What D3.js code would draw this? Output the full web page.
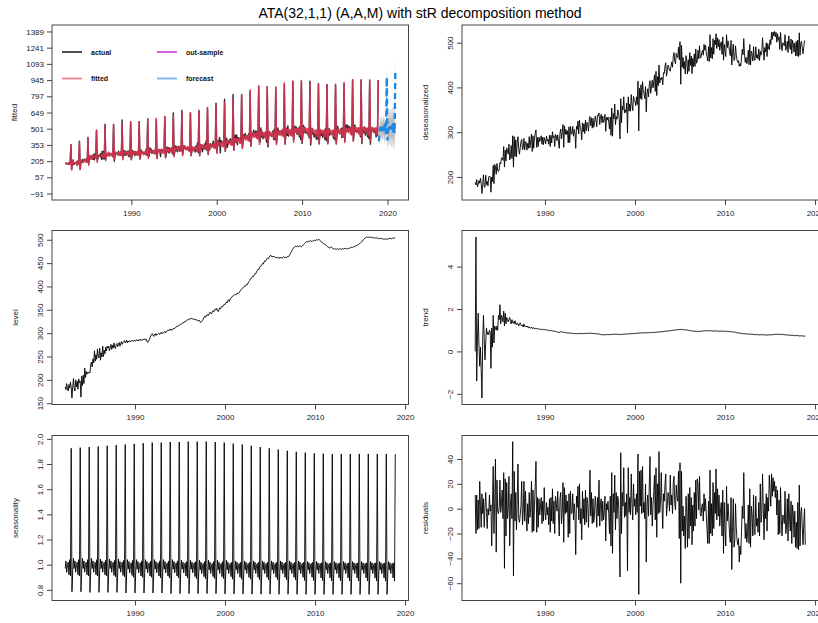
<!DOCTYPE html>
<html lang="en">
<head>
<meta charset="UTF-8">
<title>ATA(32,1,1) (A,A,M) with stR decomposition method</title>
<script src="https://d3js.org/d3.v7.min.js"></script>
<style>
  body { margin: 0; background: #fff; }
  svg { font-family: "Liberation Sans", Arial, sans-serif; }
  .tick text { font-size: 8px; fill: #222; }
  .tick line { stroke: #444; }
  .box { fill: none; stroke: #444; stroke-width: 1; }
  .series { fill: none; stroke: #000; stroke-width: 0.9; stroke-linejoin: round; }
  .ylab { font-size: 8px; fill: #222; }
  .legend text { font-size: 7px; font-weight: bold; fill: #111; }
</style>
</head>
<body>
<script>
// monthly series, first value April 1982, one row per year
const startYear = 1982, startMonth = 4;

const level = [
  [185,179,192,180,176,190,182,195,184],
  [161,185,203,182,176,200,185,197,180,202,194,197],
  [163,208,188,210,192,225,205,218,212,216,214,217],
  [215,232,238,228,245,236,262,240,254,244,266,250],
  [247,268,242,258,249,272,250,264,256,270,262,272],
  [268,272,262,270,276,265,274,268,279,270,267,276],
  [278,271,276,280,272,278,282,276,280,282,284,279],
  [281,285,279,283,281,284,282,283,285,283,282,285],
  [284,283,286,285,283,286,285,287,284,286,285,287],
  [286,288,285,287,283,280,282,286,290,294,297,299],
  [296,293,297,299,295,298,297,299,300,297,299,302],
  [299,301,300,302,304,301,303,305,307,305,307,309],
  [306,308,307,309,311,310,312,314,313,315,317,316],
  [318,320,319,321,323,322,324,326,325,327,329,328],
  [330,331,330,332,331,330,331,329,330,328,329,327],
  [328,326,327,324,323,325,327,330,333,336,334,338],
  [337,340,338,342,345,343,341,345,348,346,350,352],
  [350,353,348,346,350,354,352,356,358,357,360,362],
  [361,364,367,365,370,372,368,373,375,377,379,380],
  [381,383,382,384,383,386,385,387,390,392,394,396],
  [397,399,401,400,403,405,404,408,411,413,416,418],
  [419,422,421,425,428,427,431,434,437,436,440,443],
  [444,446,449,448,452,455,454,457,459,461,460,463],
  [465,467,464,463,465,463,464,462,461,463,461,462],
  [460,461,463,461,460,462,464,462,461,463,462,464],
  [463,465,467,470,473,476,479,482,484,485,486,485],
  [486,487,485,486,487,486,485,486,488,490,492,494],
  [495,496,495,497,496,497,498,497,496,498,497,499],
  [498,499,500,499,500,501,500,498,496,495,493,492],
  [491,490,489,488,486,485,484,482,483,485,484,482],
  [481,480,481,480,479,480,481,480,479,480,481,480],
  [480,481,480,481,482,481,480,481,482,481,482,483],
  [483,484,483,485,486,485,487,488,487,489,490,491],
  [492,494,495,497,499,501,503,504,505,506,505,505],
  [506,505,506,505,504,505,504,505,504,503,504,503],
  [504,503,502,503,502,503,502,501,502,501,502,501],
  [502,501,502,503,502,503,502,503,504,503,504,504]
].flat();

const deseasonalized = [
  [188,182,194,178,183,192,186,197,185],
  [163,183,205,178,177,204,183,190,180,200,202,200],
  [166,200,190,226,185,228,222,206,230,214,212,217],
  [232,229,242,243,237,268,222,260,236,265,258,251],
  [273,238,245,270,241,292,222,290,246,283,245,278],
  [290,264,251,265,278,284,261,265,286,260,279,277],
  [260,275,264,290,265,280,296,257,292,264,287,297],
  [305,266,288,268,289,279,284,292,273,289,272,288],
  [281,274,291,280,284,273,293,268,293,276,301,287],
  [292,268,295,292,281,294,278,264,298,307,285,300],
  [317,266,314,295,306,295,303,276,312,277,313,296],
  [296,313,291,306,299,264,313,306,325,296,327,311],
  [306,283,321,301,319,297,327,303,322,319,302,327],
  [335,314,332,309,331,311,319,336,327,312,338,337],
  [343,317,335,340,321,336,322,327,340,302,333,327],
  [334,322,307,334,293,354,291,342,330,363,317,335],
  [329,350,344,328,285,375,321,358,350,379,343,350],
  [344,365,298,379,347,363,347,384,362,348,380,373],
  [369,359,379,362,414,303,398,375,406,373,413,393],
  [386,375,402,345,386,397,379,405,415,387,403,416],
  [399,413,428,391,436,382,424,404,450,410,421,418],
  [423,406,433,431,448,455,425,436,450,446,438,436],
  [447,457,445,469,478,459,453,476,468,467,490,462],
  [502,407,494,445,467,441,458,430,471,460,430,462],
  [436,478,449,470,431,465,446,475,447,486,454,459],
  [483,464,493,466,467,478,483,472,496,483,494,477],
  [469,459,491,458,518,466,489,464,509,474,505,495],
  [520,487,511,491,507,483,497,502,474,513,461,496],
  [481,469,518,489,504,494,480,471,505,450,478,497],
  [460,464,493,473,461,456,460,447,453,448,466,485],
  [473,509,475,456,467,453,460,483,451,496,450,481],
  [475,459,491,461,461,491,466,473,463,486,460,481],
  [472,479,511,485,461,489,479,500,469,498,488,484],
  [507,496,523,507,524,515,525,513,523,501,520,505],
  [513,485,523,497,482,500,497,493,518,483,490,503],
  [478,515,494,485,508,475,505,497,479,499,471,503],
  [470,506,469,522,472,499,503,488,475,491,504,503]
].flat();

const trend = [
  [0.0,5.4,-1.4,0.6,1.8,0.3,-0.7,0.2,-0.9],
  [-2.2,0.5,1.7,0.6,-0.4,0.4,1.1,0.8,0.9,0.8,1.0,0.9],
  [-0.8,1.1,0.2,1.7,0.4,1.2,1.1,1.0,1.2,1.0,1.7,1.5],
  [2.2,1.3,1.7,1.6,1.4,1.9,1.2,1.8,1.3,1.6,1.5,1.4],
  [1.5,1.6,1.4,1.3,1.5,1.35,1.4,1.3,1.45,1.3,1.25,1.35],
  [1.3,1.2,1.3,1.35,1.25,1.2,1.25,1.15,1.3,1.2,1.15,1.2],
  [1.15,1.2,1.1,1.15,1.12,1.1,1.15,1.08,1.1,1.12,1.06,1.08],
  [1.1,1.06,1.08,1.05,1.07,1.04,1.05,1.03,1.05,1.02,1.04,1.03],
  [1.02,1.03,1.0,1.01,0.99,1.0,0.98,0.99,0.97,0.98,0.96,0.97],
  [0.95,0.96,0.94,0.93,0.92,0.9,0.91,0.89,0.92,0.93,0.92,0.91],
  [0.9,0.91,0.9,0.88,0.89,0.87,0.88,0.87,0.86,0.87,0.86,0.85],
  [0.86,0.85,0.84,0.85,0.83,0.84,0.83,0.84,0.85,0.84,0.85,0.84],
  [0.84,0.85,0.84,0.85,0.84,0.85,0.84,0.85,0.86,0.85,0.86,0.85],
  [0.86,0.85,0.86,0.85,0.84,0.85,0.84,0.83,0.84,0.83,0.82,0.83],
  [0.82,0.81,0.8,0.79,0.8,0.79,0.78,0.79,0.78,0.79,0.8,0.79],
  [0.78,0.79,0.8,0.79,0.8,0.81,0.8,0.81,0.8,0.81,0.82,0.81],
  [0.8,0.81,0.8,0.81,0.8,0.79,0.8,0.81,0.8,0.81,0.82,0.81],
  [0.82,0.83,0.82,0.83,0.84,0.83,0.84,0.83,0.84,0.85,0.84,0.85],
  [0.84,0.85,0.86,0.85,0.86,0.87,0.86,0.87,0.88,0.87,0.88,0.87],
  [0.88,0.87,0.88,0.89,0.88,0.87,0.88,0.89,0.88,0.89,0.9,0.89],
  [0.89,0.9,0.89,0.9,0.91,0.9,0.91,0.92,0.91,0.92,0.93,0.92],
  [0.93,0.94,0.93,0.94,0.95,0.96,0.95,0.96,0.97,0.96,0.97,0.98],
  [0.98,0.99,1.0,0.99,1.0,1.01,1.02,1.01,1.02,1.03,1.02,1.03],
  [1.03,1.04,1.03,1.04,1.03,1.02,1.03,1.02,1.01,1.0,1.01,1.0],
  [0.99,0.98,0.97,0.98,0.97,0.96,0.95,0.96,0.95,0.94,0.95,0.94],
  [0.94,0.95,0.94,0.95,0.96,0.95,0.96,0.97,0.96,0.97,0.98,0.97],
  [0.97,0.98,0.97,0.98,0.97,0.98,0.97,0.96,0.97,0.96,0.97,0.96],
  [0.96,0.97,0.96,0.95,0.96,0.95,0.96,0.95,0.96,0.95,0.96,0.95],
  [0.95,0.94,0.95,0.94,0.95,0.94,0.93,0.94,0.93,0.92,0.93,0.92],
  [0.91,0.9,0.91,0.89,0.88,0.87,0.88,0.86,0.85,0.86,0.85,0.84],
  [0.84,0.83,0.84,0.83,0.82,0.83,0.82,0.81,0.82,0.81,0.82,0.81],
  [0.8,0.81,0.8,0.79,0.8,0.79,0.8,0.79,0.78,0.79,0.78,0.79],
  [0.78,0.79,0.78,0.79,0.78,0.79,0.78,0.77,0.78,0.77,0.78,0.78],
  [0.78,0.79,0.78,0.79,0.8,0.79,0.8,0.81,0.8,0.81,0.8,0.81],
  [0.8,0.81,0.8,0.81,0.8,0.79,0.8,0.79,0.78,0.79,0.78,0.77],
  [0.78,0.77,0.76,0.77,0.76,0.75,0.76,0.75,0.76,0.75,0.74,0.75],
  [0.74,0.75,0.74,0.73,0.74,0.73,0.74,0.73,0.72,0.73,0.72,0.72]
].flat();

const seasonality = [
  [0.97,1.03,0.94,1.00,1.02,0.92,1.04,0.91,1.925],
  [0.785,0.95,1.05,0.97,1.03,0.94,1.00,1.02,0.92,1.04,0.91,1.93],
  [0.785,0.95,1.05,0.97,1.03,0.94,1.00,1.02,0.92,1.04,0.91,1.935],
  [0.78,0.95,1.05,0.97,1.03,0.94,1.00,1.02,0.92,1.04,0.91,1.94],
  [0.78,0.95,1.045,0.97,1.03,0.94,1.00,1.02,0.92,1.035,0.91,1.945],
  [0.78,0.945,1.045,0.97,1.03,0.94,1.00,1.02,0.915,1.035,0.905,1.95],
  [0.78,0.945,1.045,0.97,1.025,0.94,1.00,1.02,0.915,1.035,0.905,1.955],
  [0.775,0.945,1.04,0.965,1.025,0.935,0.995,1.015,0.915,1.035,0.9,1.96],
  [0.775,0.945,1.04,0.965,1.025,0.935,0.995,1.015,0.91,1.03,0.9,1.965],
  [0.775,0.94,1.04,0.965,1.025,0.935,0.995,1.015,0.91,1.03,0.9,1.97],
  [0.775,0.94,1.04,0.965,1.025,0.935,0.995,1.015,0.91,1.03,0.895,1.97],
  [0.775,0.94,1.04,0.965,1.025,0.935,0.995,1.015,0.91,1.03,0.895,1.975],
  [0.77,0.94,1.04,0.965,1.025,0.935,0.995,1.015,0.91,1.03,0.895,1.975],
  [0.77,0.94,1.035,0.965,1.02,0.935,0.995,1.015,0.91,1.025,0.895,1.978],
  [0.77,0.94,1.035,0.965,1.02,0.935,0.995,1.015,0.905,1.025,0.89,1.978],
  [0.77,0.935,1.035,0.96,1.02,0.93,0.99,1.01,0.905,1.025,0.89,1.978],
  [0.77,0.935,1.035,0.96,1.02,0.93,0.99,1.01,0.905,1.025,0.89,1.975],
  [0.77,0.935,1.035,0.96,1.02,0.93,0.99,1.01,0.905,1.025,0.89,1.97],
  [0.768,0.935,1.035,0.96,1.02,0.93,0.99,1.01,0.905,1.02,0.885,1.962],
  [0.768,0.935,1.03,0.96,1.02,0.93,0.99,1.01,0.9,1.02,0.885,1.955],
  [0.768,0.93,1.03,0.96,1.02,0.93,0.99,1.01,0.9,1.02,0.885,1.945],
  [0.766,0.93,1.03,0.96,1.02,0.93,0.99,1.01,0.9,1.02,0.88,1.935],
  [0.766,0.93,1.03,0.96,1.02,0.93,0.99,1.01,0.9,1.02,0.88,1.925],
  [0.766,0.93,1.03,0.96,1.02,0.93,0.99,1.01,0.9,1.02,0.88,1.915],
  [0.765,0.93,1.03,0.96,1.02,0.93,0.99,1.01,0.9,1.02,0.88,1.905],
  [0.765,0.93,1.03,0.96,1.02,0.93,0.99,1.01,0.9,1.02,0.88,1.897],
  [0.765,0.93,1.03,0.96,1.02,0.93,0.99,1.01,0.9,1.02,0.875,1.89],
  [0.764,0.93,1.025,0.96,1.015,0.93,0.99,1.01,0.9,1.02,0.875,1.885],
  [0.764,0.93,1.025,0.96,1.015,0.93,0.99,1.01,0.895,1.015,0.875,1.882],
  [0.764,0.93,1.025,0.96,1.015,0.93,0.99,1.01,0.895,1.015,0.872,1.88],
  [0.764,0.93,1.025,0.96,1.015,0.93,0.99,1.01,0.895,1.015,0.872,1.88],
  [0.764,0.93,1.025,0.96,1.015,0.93,0.99,1.01,0.895,1.015,0.87,1.88],
  [0.764,0.93,1.025,0.96,1.015,0.93,0.99,1.01,0.895,1.015,0.87,1.88],
  [0.764,0.93,1.025,0.96,1.015,0.93,0.99,1.01,0.895,1.015,0.87,1.88],
  [0.764,0.93,1.025,0.96,1.015,0.93,0.99,1.01,0.895,1.015,0.87,1.88],
  [0.764,0.93,1.025,0.96,1.015,0.93,0.99,1.01,0.895,1.015,0.87,1.88],
  [0.764,0.93,1.025,0.96,1.015,0.93,0.99,1.01,0.895,1.015,0.87,1.878]
].flat();

const residuals = [
  [11,-20,11,-17,7,-16,22,2,-15],
  [12,-4,8,-15,1,13,-3,-16,0,-5,11,-2],
  [3,-30,2,34,-20,5,40,-35,23,-2,-4,1],
  [23,-3,4,15,-8,29,-48,24,-22,21,-8,0],
  [26,-30,3,12,-8,54,-54,30,-10,13,-17,6],
  [36,-8,-11,-5,2,22,-13,-3,22,-10,14,-6],
  [-18,4,-12,13,-7,2,22,-19,15,-18,3,18],
  [38,-19,9,-15,8,-5,2,9,-12,6,-10,17],
  [-3,-9,5,-5,1,-13,8,-19,9,-10,16,-12],
  [6,-20,10,5,-2,14,-4,-22,8,13,-12,-3],
  [21,-27,17,-4,11,-3,6,-23,12,-20,14,-4],
  [-3,12,-9,4,-5,-37,10,1,18,-9,20,-12],
  [0,-25,14,-8,8,-13,15,-11,9,4,-15,5],
  [31,-6,13,-12,8,-11,-5,10,2,-15,9,-6],
  [23,-14,5,8,-10,6,-9,-2,10,-26,4,-1],
  [6,-4,-20,10,-30,29,-36,12,-3,27,-17,13],
  [-8,10,6,-14,-55,45,-20,13,2,33,-7,5],
  [-6,12,-50,33,-3,9,-5,28,4,-9,20,2],
  [8,-5,12,-3,44,-69,30,2,31,-4,34,-3],
  [5,-8,20,-43,3,11,-6,18,42,-5,9,-14],
  [2,14,27,-9,33,-23,20,-4,46,-3,5,29],
  [4,-16,12,6,20,28,-6,2,13,10,-2,27],
  [3,11,-4,21,26,4,-1,19,9,6,30,-24],
  [37,-60,30,-18,2,-22,-6,-32,10,-3,-31,12],
  [-24,17,-14,9,-29,3,-18,13,-14,23,-8,24],
  [20,-1,26,-4,-6,2,4,-10,12,-2,8,-5],
  [-17,-28,6,-28,31,-20,4,-22,21,-16,13,-4],
  [32,-9,16,-6,11,-14,-1,5,-22,15,-36,5],
  [-17,-30,18,-10,4,-7,-20,-27,9,-49,-15,8],
  [-31,-26,4,-15,-25,-29,-24,-43,-30,-37,-18,2],
  [-8,29,-6,-24,-12,-27,-21,3,-28,16,-31,2],
  [-5,-22,11,-20,-21,10,-14,-8,-19,5,-22,20],
  [-11,-5,28,0,-25,4,-8,12,-18,9,-2,27],
  [15,2,28,10,25,14,22,9,18,-5,15,-21],
  [7,-20,17,-8,-22,-5,-7,-12,14,-20,-14,8],
  [-26,12,-8,-18,6,-28,3,-4,-23,-2,-31,-11],
  [-32,5,-33,19,-30,-4,1,-15,-29,-12,0,-29]
].flat();

const actual = [
  [182,187,182,178,187,177,193,179,356],
  [128,174,215,173,182,192,183,194,166,208,184,386],
  [130,190,200,219,191,214,222,210,212,223,193,420],
  [181,218,254,236,244,252,222,265,217,276,235,487],
  [213,226,256,262,248,274,222,296,226,293,223,541],
  [226,249,262,257,286,267,261,270,262,269,252,540],
  [203,260,276,281,272,263,296,262,267,273,260,581],
  [236,251,300,259,296,261,283,296,250,299,245,564],
  [218,259,303,270,291,255,292,272,267,284,271,564],
  [226,252,307,282,288,275,277,268,271,316,257,591],
  [246,250,327,285,314,276,301,280,284,285,280,583],
  [229,294,303,295,306,247,311,311,296,305,293,614],
  [236,266,334,290,327,278,325,308,293,329,270,646],
  [258,295,344,298,338,291,317,341,298,320,303,667],
  [264,298,347,328,327,314,320,332,308,310,296,647],
  [257,301,318,321,299,329,288,345,299,372,282,663],
  [253,327,356,315,291,349,318,362,317,388,305,691],
  [265,341,308,364,354,338,344,388,328,357,338,735],
  [283,336,392,348,422,282,394,379,367,380,366,771],
  [296,351,414,331,394,369,375,409,374,395,357,813],
  [306,384,441,375,445,355,420,408,405,418,373,813],
  [324,378,446,414,457,423,421,440,405,455,385,844],
  [342,425,458,450,488,427,448,481,421,476,431,889],
  [385,379,509,427,476,410,453,434,424,469,378,885],
  [334,445,462,451,440,432,442,480,402,496,400,874],
  [369,432,508,447,476,445,478,477,446,493,435,905],
  [359,427,506,440,528,433,484,469,458,483,442,936],
  [397,453,524,471,515,449,492,507,427,523,403,935],
  [367,436,531,469,512,459,475,476,452,457,418,935],
  [351,432,505,454,468,424,455,451,405,455,406,912],
  [361,473,487,438,474,421,455,488,404,503,392,904],
  [363,427,503,443,468,457,461,478,414,493,400,904],
  [361,445,524,466,468,455,474,505,420,505,425,910],
  [387,461,536,487,532,479,520,518,468,509,452,949],
  [392,451,536,477,489,465,492,498,464,490,426,946],
  [365,479,506,466,516,442,500,502,429,506,410,946],
  [359,471,481,501,479,464,498,493,425,498,438,945]
].flat();

const fitted = [
  [179,184,180,180,180,175,189,177,354],
  [126,176,213,177,181,188,185,201,166,210,177,380],
  [128,198,197,204,198,212,205,222,195,225,195,420],
  [168,220,250,221,252,222,262,245,234,254,242,485],
  [193,255,253,250,256,256,250,269,236,279,238,529],
  [209,257,274,262,284,249,274,273,255,279,242,538],
  [217,256,288,272,279,261,282,282,256,292,257,545],
  [218,269,290,273,288,266,281,287,261,293,254,559],
  [220,267,297,275,290,267,284,291,258,295,257,564],
  [222,271,296,277,290,262,281,290,264,303,267,589],
  [229,275,309,289,302,279,296,303,273,306,268,595],
  [232,283,312,291,312,281,301,310,279,314,275,610],
  [236,290,319,298,319,290,310,319,285,324,284,624],
  [245,301,330,310,329,301,322,331,296,335,294,649],
  [254,311,342,320,338,309,329,334,299,336,293,647],
  [253,305,338,311,329,302,324,333,301,344,297,669],
  [259,318,350,328,352,319,338,348,315,355,312,695],
  [270,330,360,332,357,329,348,360,324,366,320,713],
  [277,340,380,350,377,346,364,377,339,385,335,746],
  [293,358,393,369,391,359,381,391,351,400,349,774],
  [305,371,413,384,411,377,400,412,370,421,368,813],
  [321,392,434,408,437,397,427,438,393,445,387,857],
  [340,415,462,430,461,423,449,462,413,470,405,891],
  [356,434,478,444,474,431,459,467,415,472,406,885],
  [352,429,477,443,469,430,459,467,415,472,407,884],
  [354,432,481,451,482,443,474,487,436,495,428,920],
  [372,453,500,467,497,452,480,491,439,500,431,934],
  [378,461,507,477,503,462,493,502,446,508,435,941],
  [380,464,513,479,508,466,495,503,444,502,431,926],
  [375,456,501,468,493,451,479,487,432,492,422,906],
  [367,446,493,461,486,446,476,485,429,487,419,902],
  [367,447,492,462,489,447,475,486,431,488,419,908],
  [369,450,495,466,493,451,482,493,436,496,426,923],
  [376,459,507,477,506,466,498,509,452,514,439,949],
  [387,470,519,485,512,470,499,510,451,511,438,946],
  [385,468,515,483,510,468,497,506,449,509,437,942],
  [384,466,515,483,510,468,497,508,451,511,438,947]
].flat();

// 24-month forecast from January 2019 with 80% and 95% intervals
const fcStart = 2019;
const forecast = [386,471,520,488,517,475,507,519,461,524,452,969, 393,479,529,496,526,483,516,528,469,533,460,1010];
const lo80 = [352,425,465,432,455,415,440,450,400,450,390,850, 335,400,440,410,430,395,420,430,380,425,370,890];
const hi80 = [420,518,575,545,580,535,575,590,525,598,515,1090, 452,560,620,584,622,572,612,626,558,640,552,1130];
const lo95 = [330,395,430,400,420,380,405,410,360,405,345,780, 290,340,380,350,370,330,350,360,310,350,290,800];
const hi95 = [445,560,620,590,620,575,610,625,565,640,560,1060, 500,620,690,650,690,640,690,700,630,710,620,1200];

const fittedTicks = [-91,57,205,353,501,649,797,945,1093,1241,1389];
const yearTicks = [1980,1990,2000,2010,2020];

const legendItems = [
  { label: "actual", color: "#4d4d4d" },
  { label: "out-sample", color: "#d660d6" },
  { label: "fitted", color: "#ea8c94" },
  { label: "forecast", color: "#84bbee" }
];

// ---------------------------------------------------------------
const W = 818, H = 623;
const svg = d3.select("body").append("svg").attr("width", W).attr("height", H);
svg.append("rect").attr("width", W).attr("height", H).attr("fill", "#fff");

const time = level.map((_, i) => startYear + (startMonth - 1 + i) / 12);
const fcTime = forecast.map((_, i) => fcStart + i / 12);

// R style axis range: data range plus 4% on each side
function pad(ext) {
  const r = ext[1] - ext[0];
  return [ext[0] - 0.04 * r, ext[1] + 0.04 * r];
}

const cols = [{ x0: 52, x1: 408.5 }, { x0: 462, x1: 818.5 }];
const rows = [{ y0: 25, y1: 200 }, { y0: 230.5, y1: 404.5 }, { y0: 435.5, y1: 600.5 }];

function frame(opt) {
  const c = cols[opt.col], r = rows[opt.row];
  const x = d3.scaleLinear().domain(opt.xdom).range([c.x0, c.x1]);
  const y = d3.scaleLinear().domain(opt.ydom).range([r.y1, r.y0]);
  const g = svg.append("g");

  const xa = g.append("g").attr("transform", `translate(0,${r.y1})`)
    .call(d3.axisBottom(x)
      .tickValues(yearTicks.filter(t => t >= opt.xdom[0] && t <= opt.xdom[1]))
      .tickFormat(d3.format("d")).tickSize(5).tickPadding(5));
  xa.select(".domain").remove();

  const ya = g.append("g").attr("transform", `translate(${c.x0},0)`)
    .call(d3.axisLeft(y).tickValues(opt.yticks)
      .tickFormat(opt.yfmt || d3.format("d")).tickSize(5).tickPadding(3));
  ya.select(".domain").remove();
  if (!opt.flatLabels) {
    ya.selectAll("text")
      .attr("x", 0).attr("y", -9).attr("dy", 0)
      .attr("transform", "rotate(-90)")
      .style("text-anchor", "middle");
  }

  g.append("rect").attr("class", "box")
    .attr("x", c.x0).attr("y", r.y0)
    .attr("width", c.x1 - c.x0).attr("height", r.y1 - r.y0);

  const labX = opt.labX !== undefined ? opt.labX : c.x0 - 34;
  g.append("text").attr("class", "ylab")
    .attr("transform", `translate(${labX},${(r.y0 + r.y1) / 2}) rotate(-90)`)
    .attr("text-anchor", "middle")
    .text(opt.ylabel);

  return { g, x, y };
}

function seriesLine(p, values) {
  p.g.append("path").attr("class", "series")
    .attr("d", d3.line().x((d, i) => p.x(time[i])).y(d => p.y(d))(values));
}

const xDomMain = pad(d3.extent(time));

// --- fitted / forecast panel
{
  const p = frame({
    col: 0, row: 0, xdom: pad([time[0], fcTime[fcTime.length - 1]]),
    ydom: pad([-91, 1389]), yticks: fittedTicks, ylabel: "fitted",
    flatLabels: true, labX: 17
  });

  const band = (lo, hi) => d3.area()
    .x((d, i) => p.x(fcTime[i])).y0((d, i) => p.y(lo[i])).y1((d, i) => p.y(hi[i]))(forecast);
  p.g.append("path").attr("d", band(lo95, hi95)).attr("fill", "#d9d9d9");
  p.g.append("path").attr("d", band(lo80, hi80)).attr("fill", "#bdbdbd");

  p.g.append("path").attr("fill", "none").attr("stroke", "#2a2a2a").attr("stroke-width", 1.4)
    .attr("stroke-linejoin", "round")
    .attr("d", d3.line().x((d, i) => p.x(time[i])).y(d => p.y(d))(actual));
  p.g.append("path").attr("fill", "none").attr("stroke", "#d3334f").attr("stroke-width", 1.5)
    .attr("stroke-opacity", 0.92).attr("stroke-linejoin", "round")
    .attr("d", d3.line().x((d, i) => p.x(time[i])).y(d => p.y(d))(fitted));
  p.g.append("path").attr("fill", "none").attr("stroke", "#1e88e5").attr("stroke-width", 2.4)
    .attr("stroke-dasharray", "6,4")
    .attr("d", d3.line().x((d, i) => p.x(fcTime[i])).y(d => p.y(d))(forecast));

  const lg = p.g.append("g").attr("class", "legend");
  legendItems.forEach((it, i) => {
    const lx = i % 2 === 0 ? 62 : 157, ly = i < 2 ? 52 : 78.5;
    lg.append("line").attr("x1", lx).attr("x2", lx + 20).attr("y1", ly).attr("y2", ly)
      .attr("stroke", it.color).attr("stroke-width", 2);
    lg.append("text").attr("x", lx + 29).attr("y", ly + 2.5).text(it.label);
  });
}

// --- decomposition panels
seriesLine(frame({ col: 1, row: 0, xdom: xDomMain, ydom: pad(d3.extent(deseasonalized)),
  yticks: [200, 300, 400, 500], ylabel: "deseasonalized" }), deseasonalized);

seriesLine(frame({ col: 0, row: 1, xdom: xDomMain, ydom: pad(d3.extent(level)),
  yticks: [150, 200, 250, 300, 350, 400, 450, 500], ylabel: "level" }), level);

seriesLine(frame({ col: 1, row: 1, xdom: xDomMain, ydom: pad(d3.extent(trend)),
  yticks: [-2, 0, 2, 4], ylabel: "trend" }), trend);

seriesLine(frame({ col: 0, row: 2, xdom: xDomMain, ydom: pad(d3.extent(seasonality)),
  yticks: [0.8, 1.0, 1.2, 1.4, 1.6, 1.8, 2.0], yfmt: d3.format(".1f"), ylabel: "seasonality" }), seasonality);

seriesLine(frame({ col: 1, row: 2, xdom: xDomMain, ydom: pad(d3.extent(residuals)),
  yticks: [-60, -40, -20, 0, 20, 40], ylabel: "residuals" }), residuals);

svg.append("text")
  .attr("x", 420).attr("y", 18)
  .attr("text-anchor", "middle")
  .style("font-size", "14px")
  .text("ATA(32,1,1) (A,A,M) with stR decomposition method");
</script>
</body>
</html>
